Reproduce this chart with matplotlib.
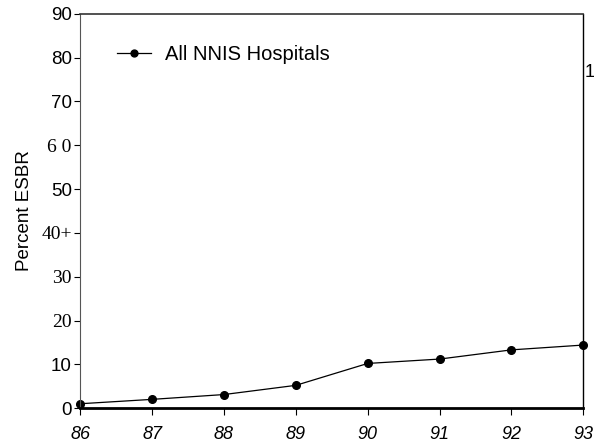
import matplotlib
matplotlib.use("Agg")
import matplotlib.pyplot as plt

# ------------------------------------------------------------
# Data
# ------------------------------------------------------------

years = [86, 87, 88, 89, 90, 91, 92, 93]
esbr_percent = [1.0, 2.0, 3.1, 5.2, 10.2, 11.2, 13.3, 14.4]

y_ticks = [0, 10, 20, 30, 40, 50, 60, 70, 80, 90]
y_tick_labels = ["0", "10", "20", "30", "40+", "50", "6 0", "70", "80", "90"]
serif_labels = ["20", "30", "40+", "6 0"]

series_label = "All NNIS Hospitals"

# ------------------------------------------------------------
# Figure
# ------------------------------------------------------------

fig = plt.figure(figsize=(5.94, 4.48), dpi=100)
ax = fig.add_axes([0.135, 0.089, 0.847, 0.880])

ax.plot(years, esbr_percent, color="black", linewidth=0.9,
        marker="o", markersize=5.5, label=series_label, clip_on=False)

ax.set_xlim(86, 93)
ax.set_ylim(0, 90)

ax.set_xticks(years)
ax.set_xticklabels([str(y) for y in years], fontstyle="italic", fontsize=13,
                   family="Liberation Sans")
ax.set_yticks(y_ticks)
ax.set_yticklabels(y_tick_labels, fontsize=13.5)
for lbl in ax.get_yticklabels():
    if lbl.get_text() in serif_labels:
        lbl.set_family("Liberation Serif")
        lbl.set_fontsize(14)
    else:
        lbl.set_family("Liberation Sans")

ax.tick_params(axis="y", direction="out", length=4, width=0.8, pad=2)
ax.tick_params(axis="x", direction="out", length=5, width=0.8, pad=8)

ax.set_ylabel("Percent ESBR", fontsize=13.5, family="Liberation Sans", labelpad=6)

# Spines
ax.spines["bottom"].set_linewidth(2.0)
ax.spines["top"].set_linewidth(1.2)
ax.spines["top"].set_color("#333333")
ax.spines["left"].set_linewidth(0.8)
ax.spines["left"].set_color("#555555")
ax.spines["right"].set_linewidth(1.0)

# Legend
leg = ax.legend(loc="upper left", bbox_to_anchor=(0.037, 0.968), frameon=False,
                handlelength=1.7, handletextpad=0.7, markerscale=0.9,
                prop={"family": "Liberation Sans", "size": 14.5})

# stray scan mark near the right edge
ax.text(1.002, 0.83, "1", transform=ax.transAxes, fontsize=13,
        family="Liberation Sans", ha="left", va="bottom")

fig.savefig("out.png", dpi=100)
